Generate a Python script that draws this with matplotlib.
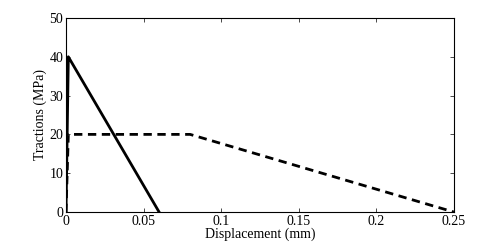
import matplotlib
matplotlib.use("Agg")
import matplotlib.pyplot as plt

plt.rcParams['font.family'] = ['Liberation Serif', 'DejaVu Serif']

# traction-separation laws
disp_solid = [0, 0.0015, 0.06]
trac_solid = [0, 40, 0]
disp_dashed = [0, 0.0015, 0.08, 0.25]
trac_dashed = [0, 20, 20, 0]

xticks = [0, 0.05, 0.1, 0.15, 0.2, 0.25]
xticklabels = ["0", "0.05", "0.1", "0.15", "0.2", "0.25"]
yticks = [0, 10, 20, 30, 40, 50]

fig = plt.figure(figsize=(5.02, 2.43), dpi=100)
ax = fig.add_axes([0.1315, 0.1276, 0.7725, 0.7984])
ax.plot(disp_solid, trac_solid, color="black", lw=2)
ax.plot(disp_dashed, trac_dashed, color="black", lw=2, ls=(0, (3, 2)))

ax.set_xlim(0, 0.25)
ax.set_ylim(0, 50)
ax.set_xticks(xticks)
ax.set_xticklabels(xticklabels)
ax.set_yticks(yticks)
ax.tick_params(direction="in", length=3, width=0.5, labelsize=10, pad=2, top=True, right=True)
for s in ax.spines.values():
    s.set_linewidth(0.8)
ax.set_xlabel("Displacement (mm)", fontsize=10, labelpad=0)
ax.set_ylabel("Tractions (MPa)", fontsize=10, labelpad=2)

fig.savefig("out.png", dpi=100)
